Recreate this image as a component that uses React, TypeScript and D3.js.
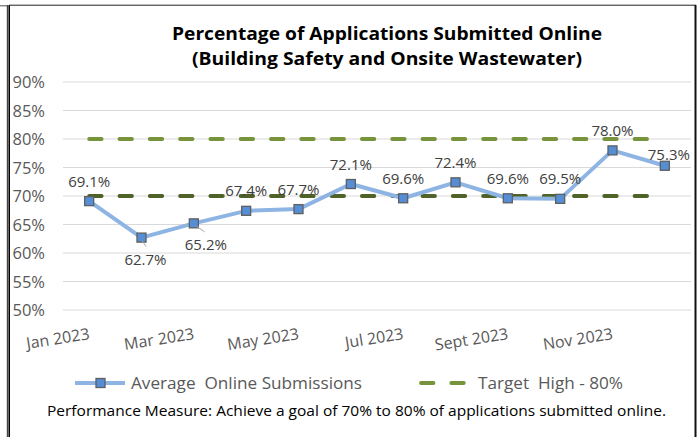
import React from "react";
import * as d3 from "d3";

const months = ["Jan 2023","Feb 2023","Mar 2023","Apr 2023","May 2023","Jun 2023","Jul 2023","Aug 2023","Sept 2023","Oct 2023","Nov 2023","Dec 2023"];
const axisLabels = ["Jan 2023","","Mar 2023","","May 2023","","Jul 2023","","Sept 2023","","Nov 2023",""];
const onlinePct = [69.1, 62.7, 65.2, 67.4, 67.7, 72.1, 69.6, 72.4, 69.6, 69.5, 78.0, 75.3];
const labelPlacement = ["above","below","belowRight","above","above","above","above","above","above","above","above","aboveRight"];
const targetHigh = 80;
const targetLow = 70;
const yTicks = [50, 55, 60, 65, 70, 75, 80, 85, 90];
const titleLines = ["Percentage of Applications Submitted Online", "(Building Safety and Onsite Wastewater)"];
const seriesName = "Average  Online Submissions";
const targetName = "Target  High - 80%";
const footnote = "Performance Measure: Achieve a goal of 70% to 80% of applications submitted online.";

const W = 699, H = 437;
const FONT = "'Open Sans', 'Noto Sans', sans-serif";
const GRAY_TEXT = "#595959";

export default function App() {
  const x = d3.scalePoint<string>().domain(months).range([63, 691]).padding(0.5);
  const y = d3.scaleLinear().domain([50, 90]).range([310, 82]);
  const line = d3.line<number>().x((_, i) => x(months[i])!).y((d) => y(d));
  const x0 = x(months[0])!;
  const x1 = x(months[months.length - 1])!;

  const offsets: Record<string, [number, number]> = {
    above: [0, -20],
    below: [4, 22],
    belowRight: [12, 21],
    aboveRight: [4, -11],
  };
  const titleWidths = [430, 390];

  return (
    <svg width={W} height={H} style={{ position: "absolute", left: 0, top: 0, background: "#fff" }} xmlns="http://www.w3.org/2000/svg">
      <rect x={0} y={0} width={W} height={H} fill="#fff" />
      {/* frame */}
      <line x1={0} x2={8} y1={5.8} y2={5.8} stroke="#555" strokeWidth={1} />
      <line x1={7.8} x2={7.8} y1={5} y2={H} stroke="#444" strokeWidth={2} />
      <line x1={9.5} x2={9.5} y1={5} y2={H} stroke="#000" strokeWidth={1} />
      <line x1={9} x2={696} y1={5.2} y2={5.2} stroke="#222" strokeWidth={1} />
      <line x1={695.5} x2={695.5} y1={5} y2={H} stroke="#111" strokeWidth={2} />

      {/* title */}
      {titleLines.map((t, i) => (
        <text key={i} x={387} y={40 + i * 25} textAnchor="middle" fontFamily={FONT} fontWeight={700} fontSize={18} fill="#000" textLength={titleWidths[i]} lengthAdjust="spacingAndGlyphs">{t}</text>
      ))}

      {/* gridlines + y labels */}
      {yTicks.map((v) => (
        <g key={v}>
          <line x1={63} x2={691} y1={y(v)} y2={y(v)} stroke="#D9D9D9" strokeWidth={1} />
          <text x={12.5} y={y(v) + 6} fontFamily={FONT} fontSize={16.5} fill={GRAY_TEXT}>{`${v}%`}</text>
        </g>
      ))}

      {/* target lines */}
      <line x1={x0} x2={x1} y1={y(targetHigh)} y2={y(targetHigh)} stroke="#77933C" strokeWidth={3.8} strokeDasharray="12.5 17.8" strokeLinecap="round" />
      <line x1={x0} x2={x1} y1={y(targetLow)} y2={y(targetLow)} stroke="#4F6228" strokeWidth={3.8} strokeDasharray="12.5 17.8" strokeLinecap="round" />

      {/* series */}
      <path d={line(onlinePct)!} fill="none" stroke="#8DB4E2" strokeWidth={4} strokeLinejoin="round" />
      {onlinePct.map((v, i) => (
        <rect key={i} x={x(months[i])! - 4.5} y={y(v) - 4.5} width={9} height={9} fill="#558ED5" stroke="#5f5f5f" strokeWidth={1.3} />
      ))}

      {/* leader lines */}
      {onlinePct.map((v, i) => {
        const p = labelPlacement[i];
        if (p !== "below" && p !== "belowRight") return null;
        const px = x(months[i])!, py = y(v);
        const [dx] = offsets[p];
        return <line key={i} x1={px + (p === "belowRight" ? 3 : 0.5)} y1={py + 3} x2={px + dx * 0.9 + (p === "below" ? 1 : 0)} y2={py + (p === "below" ? 9 : 8.5)} stroke="#A6A6A6" strokeWidth={1} />;
      })}

      {/* data labels */}
      {onlinePct.map((v, i) => {
        const [dx, dy] = offsets[labelPlacement[i]];
        return (
          <text key={i} x={x(months[i])! + dx} y={y(v) + dy + 5.5} textAnchor="middle" fontFamily={FONT} fontSize={15} fill="#404040">{`${v.toFixed(1)}%`}</text>
        );
      })}

      {/* x axis labels */}
      {axisLabels.map((t, i) => t ? (
        <text key={i} transform={`translate(${x(months[i])! + 1},339) rotate(-9)`} textAnchor="end" fontFamily={FONT} fontSize={16} fill={GRAY_TEXT}>{t}</text>
      ) : null)}

      {/* legend */}
      <line x1={75} x2={125} y1={383} y2={383} stroke="#8DB4E2" strokeWidth={4} />
      <rect x={96} y={378.5} width={9} height={9} fill="#558ED5" stroke="#5f5f5f" strokeWidth={1.3} />
      <text x={131} y={389} fontFamily={FONT} fontSize={16.5} fill={GRAY_TEXT} style={{ whiteSpace: "pre" }} textLength={231} lengthAdjust="spacingAndGlyphs">{seriesName}</text>
      <line x1={421} x2={467} y1={383} y2={383} stroke="#77933C" strokeWidth={3.8} strokeDasharray="12.5 17.8" strokeLinecap="round" />
      <text x={478} y={389} fontFamily={FONT} fontSize={16.5} fill={GRAY_TEXT} style={{ whiteSpace: "pre" }} textLength={145} lengthAdjust="spacingAndGlyphs">{targetName}</text>

      {/* footnote */}
      <text x={47} y={416} fontFamily={FONT} fontSize={14} fill="#000" textLength={619} lengthAdjust="spacingAndGlyphs">{footnote}</text>
    </svg>
  );
}
